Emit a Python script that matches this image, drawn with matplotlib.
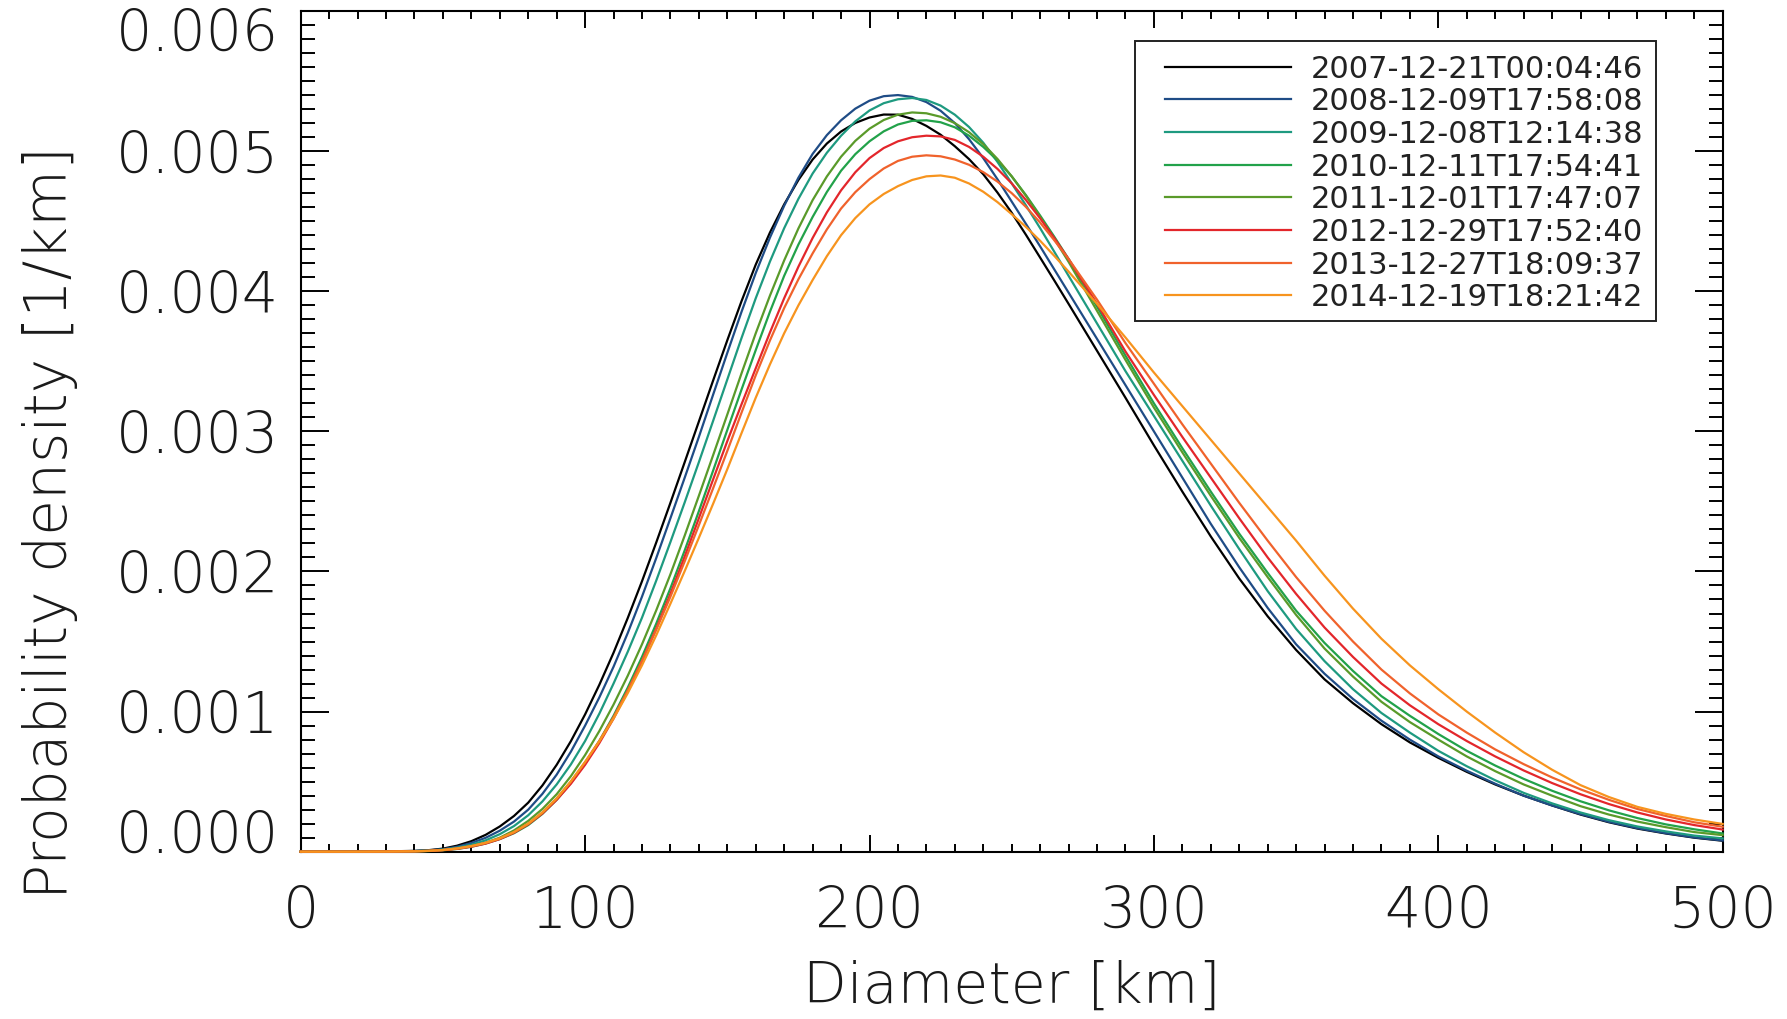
import matplotlib
matplotlib.use("Agg")
import matplotlib.pyplot as plt
import numpy as np
from matplotlib.ticker import MultipleLocator, FormatStrFormatter
from matplotlib.transforms import ScaledTranslation
from matplotlib.patches import Rectangle

# ---------------- data (density in units of 1e-3 per km) ----------------
diameter_km = [0, 10, 20, 30] + list(range(40, 275, 5)) + list(range(280, 510, 10))

labels = ["2007-12-21T00:04:46", "2008-12-09T17:58:08", "2009-12-08T12:14:38",
          "2010-12-11T17:54:41", "2011-12-01T17:47:07", "2012-12-29T17:52:40",
          "2013-12-27T18:09:37", "2014-12-19T18:21:42"]
colors = ["#000000", "#1f4c86", "#1e9a80", "#22a24a", "#5a9a2a", "#e3262b",
          "#f0622c", "#f7941e"]

d2007 = [0, 0, 0, 0.002,
         0.006, 0.011, 0.022, 0.043, 0.075, 0.120, 0.18, 0.255, 0.35, 0.473, 0.62,
         0.789, 0.98, 1.191, 1.42, 1.668, 1.93, 2.206, 2.49, 2.779, 3.07, 3.362,
         3.65, 3.929, 4.19, 4.419, 4.62, 4.794, 4.94, 5.054, 5.14, 5.201, 5.24,
         5.261, 5.26, 5.23, 5.18, 5.117, 5.035, 4.943, 4.835, 4.704, 4.56, 4.403,
         4.24, 4.076, 3.91,
         3.575, 3.24, 2.90, 2.57, 2.25, 1.95, 1.68, 1.44, 1.23, 1.06, 0.91, 0.78,
         0.67, 0.57, 0.48, 0.40, 0.33, 0.265, 0.21, 0.165, 0.13, 0.10, 0.078]
d2008 = [0, 0, 0, 0.001,
         0.005, 0.009, 0.018, 0.035, 0.062, 0.099, 0.15, 0.215, 0.30, 0.413, 0.55,
         0.714, 0.90, 1.101, 1.32, 1.561, 1.82, 2.095, 2.38, 2.668, 2.96, 3.261,
         3.56, 3.853, 4.13, 4.383, 4.61, 4.81, 4.98, 5.114, 5.22, 5.303, 5.36,
         5.392, 5.40, 5.387, 5.35, 5.288, 5.20, 5.085, 4.95, 4.799, 4.64, 4.481,
         4.32, 4.155, 3.99,
         3.66, 3.33, 3.00, 2.67, 2.34, 2.03, 1.74, 1.48, 1.27, 1.09, 0.935, 0.80,
         0.68, 0.578, 0.485, 0.40, 0.33, 0.268, 0.213, 0.168, 0.132, 0.102, 0.08]
d2009 = [0, 0, 0, 0.001,
         0.004, 0.0075, 0.015, 0.0285, 0.05, 0.081, 0.125, 0.183, 0.26, 0.359, 0.48,
         0.623, 0.79, 0.985, 1.20, 1.427, 1.67, 1.934, 2.21, 2.492, 2.78, 3.074,
         3.37, 3.666, 3.95, 4.212, 4.45, 4.659, 4.84, 4.988, 5.11, 5.212, 5.29,
         5.342, 5.37, 5.379, 5.365, 5.325, 5.26, 5.172, 5.06, 4.923, 4.77, 4.613,
         4.45, 4.281, 4.11,
         3.77, 3.43, 3.11, 2.79, 2.47, 2.16, 1.86, 1.59, 1.36, 1.16, 0.99, 0.85,
         0.72, 0.61, 0.51, 0.42, 0.345, 0.28, 0.225, 0.18, 0.145, 0.115, 0.095]
d2010 = [0, 0, 0, 0.001,
         0.002, 0.0046, 0.010, 0.0195, 0.035, 0.058, 0.09, 0.132, 0.19, 0.27, 0.37,
         0.49, 0.63, 0.79, 0.97, 1.171, 1.39, 1.627, 1.88, 2.149, 2.43, 2.719,
         3.01, 3.298, 3.58, 3.854, 4.11, 4.333, 4.53, 4.708, 4.86, 4.978, 5.07,
         5.141, 5.19, 5.216, 5.22, 5.206, 5.17, 5.11, 5.03, 4.934, 4.82, 4.686,
         4.54, 4.388, 4.23,
         3.89, 3.54, 3.20, 2.88, 2.57, 2.27, 1.99, 1.72, 1.49, 1.29, 1.11, 0.97,
         0.84, 0.72, 0.615, 0.52, 0.435, 0.36, 0.295, 0.24, 0.195, 0.16, 0.13]
d2011 = [0, 0, 0, 0.001,
         0.003, 0.006, 0.012, 0.023, 0.04, 0.064, 0.10, 0.152, 0.22, 0.305, 0.41,
         0.539, 0.69, 0.861, 1.05, 1.256, 1.48, 1.722, 1.98, 2.255, 2.54, 2.829,
         3.12, 3.414, 3.70, 3.969, 4.22, 4.448, 4.65, 4.819, 4.96, 5.073, 5.16,
         5.222, 5.26, 5.276, 5.27, 5.245, 5.20, 5.135, 5.05, 4.944, 4.82, 4.681,
         4.53, 4.373, 4.21,
         3.86, 3.51, 3.17, 2.85, 2.54, 2.24, 1.96, 1.69, 1.45, 1.25, 1.07, 0.925,
         0.80, 0.68, 0.575, 0.48, 0.40, 0.325, 0.265, 0.215, 0.175, 0.14, 0.118]
d2012 = [0, 0, 0, 0.001,
         0.003, 0.0056, 0.011, 0.0206, 0.036, 0.058, 0.09, 0.135, 0.195, 0.273, 0.37,
         0.485, 0.62, 0.775, 0.95, 1.146, 1.36, 1.592, 1.84, 2.106, 2.38, 2.656,
         2.93, 3.193, 3.45, 3.706, 3.95, 4.175, 4.38, 4.5625, 4.72, 4.849, 4.95,
         5.022, 5.07, 5.099, 5.11, 5.105, 5.08, 5.03, 4.96, 4.873, 4.77, 4.651,
         4.52, 4.378, 4.23,
         3.91, 3.57, 3.26, 2.96, 2.67, 2.38, 2.10, 1.84, 1.60, 1.39, 1.20, 1.045,
         0.91, 0.79, 0.68, 0.58, 0.49, 0.41, 0.34, 0.28, 0.23, 0.19, 0.158]
d2013 = [0, 0, 0, 0.001,
         0.003, 0.006, 0.012, 0.023, 0.04, 0.063, 0.095, 0.140, 0.20, 0.280, 0.38,
         0.501, 0.64, 0.791, 0.96, 1.151, 1.36, 1.583, 1.82, 2.071, 2.33, 2.593,
         2.86, 3.133, 3.40, 3.649, 3.88, 4.085, 4.27, 4.441, 4.59, 4.707, 4.80,
         4.876, 4.93, 4.96, 4.97, 4.963, 4.94, 4.9025, 4.85, 4.7825, 4.70, 4.602,
         4.49, 4.363, 4.23,
         3.94, 3.63, 3.34, 3.05, 2.77, 2.49, 2.22, 1.96, 1.72, 1.50, 1.30, 1.13,
         0.98, 0.85, 0.73, 0.625, 0.53, 0.445, 0.37, 0.305, 0.255, 0.21, 0.178]
d2014 = [0, 0, 0, 0.001,
         0.003, 0.006, 0.012, 0.023, 0.04, 0.063, 0.095, 0.140, 0.20, 0.280, 0.38,
         0.502, 0.64, 0.788, 0.95, 1.132, 1.33, 1.544, 1.77, 2.002, 2.24, 2.4825,
         2.73, 2.987, 3.24, 3.478, 3.70, 3.899, 4.08, 4.25, 4.40, 4.522, 4.62,
         4.694, 4.75, 4.794, 4.82, 4.826, 4.81, 4.769, 4.71, 4.636, 4.55, 4.459,
         4.36, 4.252, 4.14,
         3.91, 3.67, 3.42, 3.18, 2.94, 2.70, 2.46, 2.22, 1.97, 1.735, 1.52, 1.33,
         1.16, 1.00, 0.85, 0.71, 0.585, 0.475, 0.39, 0.32, 0.27, 0.23, 0.198]
series = [d2007, d2008, d2009, d2010, d2011, d2012, d2013, d2014]
for i, s in enumerate(series):
    if len(s) != len(diameter_km):
        raise ValueError(f"series {i} has {len(s)} values, expected {len(diameter_km)}")

# ---------------- figure ----------------
plt.rcParams["font.family"] = ["DejaVu Sans"]
W, H = 1787, 1019
fig = plt.figure(figsize=(W / 100, H / 100), dpi=100)
ax_l, ax_r, ax_t, ax_b = 300.7, 1722.7, 11.0, 851.7
ax = fig.add_axes([ax_l / W, 1 - ax_b / H, (ax_r - ax_l) / W, (ax_b - ax_t) / H])

for vals, lab, col in zip(series, labels, colors):
    ax.plot(diameter_km, np.array(vals) * 1e-3, color=col, lw=1.6, label=lab,
            clip_on=False, zorder=3, solid_joinstyle="round")

ax.set_xlim(0, 500)
ax.set_ylim(0, 0.006)
ax.xaxis.set_major_locator(MultipleLocator(100))
ax.xaxis.set_minor_locator(MultipleLocator(10))
ax.yaxis.set_major_locator(MultipleLocator(0.001))
ax.yaxis.set_minor_locator(MultipleLocator(0.0001))
ax.yaxis.set_major_formatter(FormatStrFormatter("%.3f"))

for s in ax.spines.values():
    s.set_linewidth(1.5)
    s.set_zorder(2.5)

TFS = 41
ax.tick_params(axis="both", which="both", direction="in", top=True, right=True,
               width=1.4, color="black", labelsize=TFS, labelcolor="#1a1a1a")
ax.tick_params(axis="x", which="major", length=12, pad=24)
ax.tick_params(axis="x", which="minor", length=6)
ax.tick_params(axis="y", which="major", length=20.5, pad=15.6)
ax.tick_params(axis="y", which="minor", length=10.2)

for lab in ax.get_xticklabels() + ax.get_yticklabels():
    lab.set_fontweight(200)

ax.set_xlabel("Diameter [km]", fontsize=41, fontweight=200, color="#1a1a1a")
ax.xaxis.set_label_coords(0.5, (ax_b - 987) / (ax_b - ax_t))
ax.xaxis.label.set_va("center")
ax.set_ylabel("Probability density [1/km]", fontsize=42, fontweight=200, color="#1a1a1a")
ax.yaxis.set_label_coords((51 - ax_l) / (ax_r - ax_l), (ax_b - 523) / (ax_b - ax_t))
ax.yaxis.label.set_va("center")
ax.yaxis.label.set_ha("center")

# legend: frame drawn as rectangle, entries via ax.legend
def ax_x(px):
    return (px - ax_l) / (ax_r - ax_l)

def ax_y(py):
    return (ax_b - py) / (ax_b - ax_t)

frame = Rectangle((ax_x(1135), ax_y(321)), ax_x(1656) - ax_x(1135), ax_y(41) - ax_y(321),
                  transform=ax.transAxes, facecolor="white", edgecolor="#222222",
                  lw=1.4, zorder=4)
ax.add_patch(frame)
fs_pt = 22
fs_px = fs_pt * 100 / 72
leg = ax.legend(loc="upper left", bbox_to_anchor=(ax_x(1165), ax_y(54.5)),
                frameon=False, borderpad=0, borderaxespad=0,
                handlelength=126 / fs_px, handletextpad=20 / fs_px, labelspacing=0.12,
                prop={"family": "DejaVu Sans", "size": fs_pt})
leg.set_zorder(5)
for t in leg.get_texts():
    t.set_color("#222222")

fig.canvas.draw()
for tick in ax.yaxis.get_major_ticks():
    loc = tick.get_loc()
    if abs(loc - 0.006) < 1e-9:
        tick.label1.set_transform(tick.label1.get_transform() +
                                  ScaledTranslation(0, -18 / 100, fig.dpi_scale_trans))
    elif abs(loc) < 1e-9:
        tick.label1.set_transform(tick.label1.get_transform() +
                                  ScaledTranslation(0, 20.5 / 100, fig.dpi_scale_trans))

fig.savefig("out.png", dpi=100, facecolor="white")
